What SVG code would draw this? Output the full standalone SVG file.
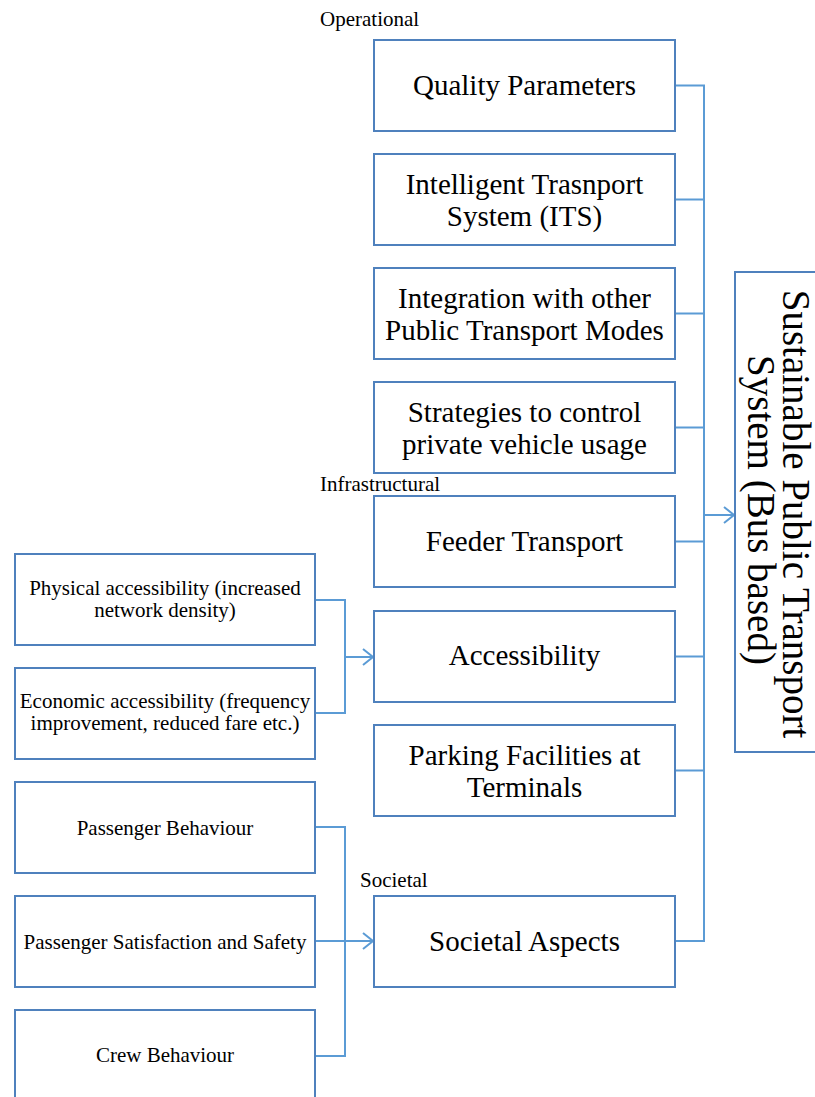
<svg xmlns="http://www.w3.org/2000/svg" width="815" height="1097" viewBox="0 0 815 1097">
<defs>
<style>
.box{fill:#fff;stroke:#4F81BD;stroke-width:2}
.ln{fill:none;stroke:#5B9BD5;stroke-width:2}
text{font-family:"Liberation Serif","Times New Roman",serif;fill:#000;text-anchor:middle}
.m{font-size:29px}
.s{font-size:21px}
.lab{font-size:21px;text-anchor:start}
.big{font-size:39px}
</style>
<marker id="arr" viewBox="0 0 12 18" refX="11" refY="9" markerWidth="12" markerHeight="18" markerUnits="userSpaceOnUse" orient="auto">
<path d="M1,1 L11,9 L1,17" fill="none" stroke="#5B9BD5" stroke-width="2"/>
</marker>
</defs>
<rect width="815" height="1097" fill="#fff"/>
<text class="lab" x="320" y="26">Operational</text>
<text class="lab" x="320" y="491">Infrastructural</text>
<text class="lab" x="360" y="887">Societal</text>
<g id="connectors">
<path class="ln" d="M675,85.5 H704 V941 H675"/>
<path class="ln" d="M675,199.5 H704"/>
<path class="ln" d="M675,313.5 H704"/>
<path class="ln" d="M675,427.5 H704"/>
<path class="ln" d="M675,541.5 H704"/>
<path class="ln" d="M675,656.5 H704"/>
<path class="ln" d="M675,770.5 H704"/>
<path class="ln" d="M704,515 H734" marker-end="url(#arr)"/>
<path class="ln" d="M315,600 H345 V713 H315"/>
<path class="ln" d="M345,657 H373" marker-end="url(#arr)"/>
<path class="ln" d="M315,827 H345 V1056 H315"/>
<path class="ln" d="M315,941 H373" marker-end="url(#arr)"/>
</g>
<g id="n-quality"><rect class="box" x="374" y="40" width="301" height="91"/><text class="m" x="524.5" y="95">Quality Parameters</text></g>
<g id="n-its"><rect class="box" x="374" y="154" width="301" height="91"/><text class="m" x="524.5" y="194">Intelligent Trasnport</text><text class="m" x="524.5" y="226">System (ITS)</text></g>
<g id="n-integration"><rect class="box" x="374" y="268" width="301" height="91"/><text class="m" x="524.5" y="308">Integration with other</text><text class="m" x="524.5" y="340">Public Transport Modes</text></g>
<g id="n-strategies"><rect class="box" x="374" y="382" width="301" height="91"/><text class="m" x="524.5" y="422">Strategies to control</text><text class="m" x="524.5" y="454">private vehicle usage</text></g>
<g id="n-feeder"><rect class="box" x="374" y="496" width="301" height="91"/><text class="m" x="524.5" y="551">Feeder Transport</text></g>
<g id="n-access"><rect class="box" x="374" y="611" width="301" height="91"/><text class="m" x="524.5" y="665">Accessibility</text></g>
<g id="n-parking"><rect class="box" x="374" y="725" width="301" height="91"/><text class="m" x="524.5" y="765">Parking Facilities at</text><text class="m" x="524.5" y="797">Terminals</text></g>
<g id="n-societal"><rect class="box" x="374" y="896" width="301" height="91"/><text class="m" x="524.5" y="951">Societal Aspects</text></g>
<g id="n-sustainable"><rect class="box" x="735" y="272" width="90" height="480"/>
<text class="big" transform="translate(783,514) rotate(90)">Sustainable Public Transport</text>
<text class="big" transform="translate(748,510) rotate(90)">System (Bus based)</text></g>
<g id="n-physical"><rect class="box" x="15" y="554" width="300" height="91"/><text class="s" x="165" y="595">Physical accessibility (increased</text><text class="s" x="165" y="617">network density)</text></g>
<g id="n-economic"><rect class="box" x="15" y="668" width="300" height="91"/><text class="s" x="165" y="708">Economic accessibility (frequency</text><text class="s" x="165" y="730">improvement, reduced fare etc.)</text></g>
<g id="n-behaviour"><rect class="box" x="15" y="782" width="300" height="91"/><text class="s" x="165" y="835">Passenger Behaviour</text></g>
<g id="n-satisfaction"><rect class="box" x="15" y="896" width="300" height="91"/><text class="s" x="165" y="949">Passenger Satisfaction and Safety</text></g>
<g id="n-crew"><rect class="box" x="15" y="1010" width="300" height="91"/><text class="s" x="165" y="1062">Crew Behaviour</text></g>
</svg>
